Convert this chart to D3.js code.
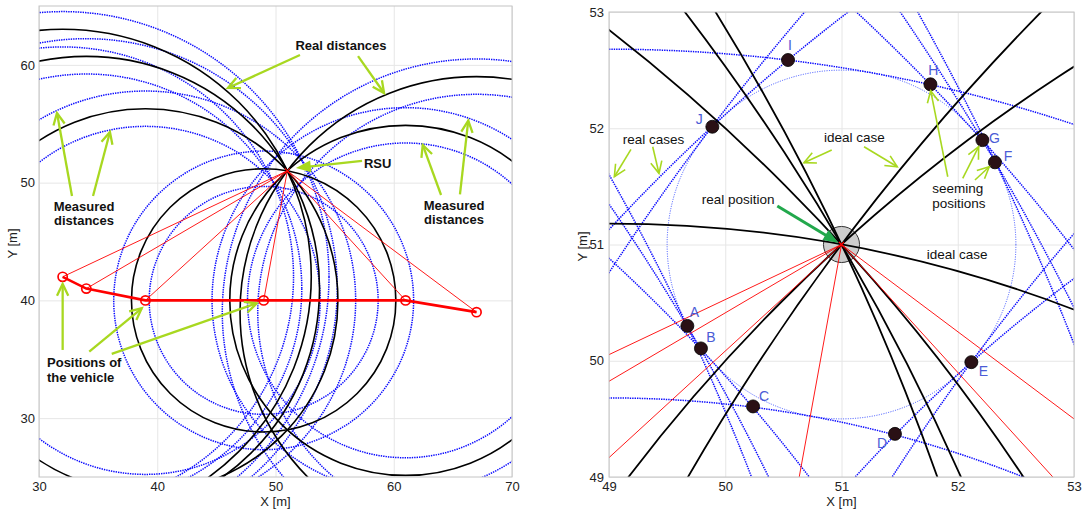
<!DOCTYPE html>
<html>
<head>
<meta charset="utf-8">
<script src="https://cdn.jsdelivr.net/npm/d3@7"></script>
<style>
  body { margin: 0; background: #fff; }
  text { font-family: "Liberation Sans", Arial, Helvetica, sans-serif; }
</style>
</head>
<body>
<svg id="chart" width="1083" height="513"></svg>
<script>
// vehicle positions along the road [m]
const vehicleX = [32, 34, 39, 49, 61, 67];
const vehicleY = [42, 41, 40, 40, 40, 39];
// road side unit
const rsuX = 51;
const rsuY = 51;
// real distances vehicle -> RSU [m]
const realDistances = [21.024, 19.723, 16.279, 11.180, 14.866, 20.000];
// measured distances (short / long reading) [m]
const measuredShort = [19.524, 18.223, 14.779, 9.680, 13.366, 18.500];
const measuredLong = [22.524, 21.223, 17.779, 12.680, 16.366, 21.500];
const idealRadius = 1.5;
// seeming positions of the RSU
const seemingNames = ['A', 'B', 'C', 'D', 'E', 'F', 'G', 'H', 'I', 'J'];
const seemingX = [49.674, 49.791, 50.239, 51.460, 52.117, 52.320, 52.212, 51.765, 50.540, 49.889];
const seemingY = [50.300, 50.106, 49.607, 49.371, 49.988, 51.707, 51.898, 52.378, 52.587, 52.013];
// tick labels
const leftTicksX = [30, 40, 50, 60, 70];
const leftTicksY = [30, 40, 50, 60];
const rightTicks = [49, 50, 51, 52, 53];

const svg = d3.select('#chart');
const BLUE = '#0a0aff';
const LIME = '#a8d820';

// label offsets (px) for the seeming positions
const letterOffsets = [[7,-14],[10,-11],[11,-10],[-13,9],[12,9],[13,-6],[12,-2],[3,-14],[2,-15],[-13,-8]];

function arrow(g, x, y, a, color, width, filled) {
  const x1 = x(a[0]), y1 = y(a[1]), x2 = x(a[2]), y2 = y(a[3]);
  const ang = Math.atan2(y2 - y1, x2 - x1);
  if (filled) {
    const L = 16, s = 0.38;
    const bx = x2 - Math.cos(ang) * (L - 3), by = y2 - Math.sin(ang) * (L - 3);
    g.append('line').attr('x1', x1).attr('y1', y1).attr('x2', bx).attr('y2', by)
      .attr('stroke', color).attr('stroke-width', width);
    const p1 = [x2 - L * Math.cos(ang - s), y2 - L * Math.sin(ang - s)];
    const p2 = [x2 - L * Math.cos(ang + s), y2 - L * Math.sin(ang + s)];
    g.append('path').attr('d', `M${x2},${y2}L${p1[0]},${p1[1]}L${p2[0]},${p2[1]}Z`)
      .attr('fill', color);
  } else {
    const L = 13, s = 0.45;
    g.append('line').attr('x1', x1).attr('y1', y1).attr('x2', x2).attr('y2', y2)
      .attr('stroke', color).attr('stroke-width', width);
    g.append('path')
      .attr('d', `M${x2 - L * Math.cos(ang - s)},${y2 - L * Math.sin(ang - s)}L${x2},${y2}L${x2 - L * Math.cos(ang + s)},${y2 - L * Math.sin(ang + s)}`)
      .attr('fill', 'none').attr('stroke', color).attr('stroke-width', width)
      .attr('stroke-linejoin', 'miter');
  }
}

function drawPanel(opt) {
  const g = svg.append('g');
  const x = d3.scaleLinear().domain(opt.xd).range(opt.xr);
  const y = d3.scaleLinear().domain(opt.yd).range(opt.yr);
  const w = opt.xr[1] - opt.xr[0];
  const h = opt.yr[0] - opt.yr[1];

  // grid + tick labels
  const ax = g.append('g').attr('transform', `translate(0,${opt.yr[0]})`)
    .call(d3.axisBottom(x).tickValues(opt.tx).tickSize(-h).tickPadding(5).tickFormat(d3.format('d')));
  const ay = g.append('g').attr('transform', `translate(${opt.xr[0]},0)`)
    .call(d3.axisLeft(y).tickValues(opt.ty).tickSize(-w).tickPadding(opt.ypad).tickFormat(d3.format('d')));
  [ax, ay].forEach(a => {
    a.select('.domain').remove();
    a.selectAll('line').attr('stroke', '#e6e6e6');
    a.selectAll('text').attr('fill', '#222').style('font-size', '13px')
      .style('font-family', '"Liberation Sans", Arial, sans-serif');
  });

  g.append('text').attr('x', (opt.xr[0] + opt.xr[1]) / 2).attr('y', 506)
    .attr('text-anchor', 'middle').attr('fill', '#222').style('font-size', '13px').text('X [m]');
  g.append('text').attr('transform', `translate(${opt.ylabX},${(opt.yr[0] + opt.yr[1]) / 2 + 2}) rotate(-90)`)
    .attr('text-anchor', 'middle').attr('fill', '#222').style('font-size', '13px').text('Y [m]');

  const clipId = 'clip' + opt.id;
  svg.append('clipPath').attr('id', clipId).append('rect')
    .attr('x', opt.xr[0]).attr('y', opt.yr[1]).attr('width', w).attr('height', h);
  const plot = g.append('g').attr('clip-path', `url(#${clipId})`);

  const rx = r => x(opt.xd[0] + r) - x(opt.xd[0]);
  const ry = r => y(opt.yd[0]) - y(opt.yd[0] + r);

  if (opt.bigRsu) {
    plot.append('ellipse').attr('cx', x(rsuX)).attr('cy', y(rsuY))
      .attr('rx', rx(0.155)).attr('ry', ry(0.155))
      .attr('fill', '#cdcdcd').attr('stroke', '#333').attr('stroke-width', 1);
  }

  // ideal ring of seeming positions
  plot.append('ellipse').attr('cx', x(rsuX)).attr('cy', y(rsuY))
    .attr('rx', rx(idealRadius)).attr('ry', ry(idealRadius))
    .attr('fill', 'none').attr('stroke', '#3a50ff').attr('stroke-width', 1)
    .attr('stroke-dasharray', '1,1.4');

  // measured distances (blue dotted)
  const measured = vehicleX.flatMap((vx, i) => [
    { cx: vx, cy: vehicleY[i], r: measuredShort[i] },
    { cx: vx, cy: vehicleY[i], r: measuredLong[i] }
  ]);
  plot.selectAll('ellipse.meas').data(measured).enter().append('ellipse')
    .attr('class', 'meas')
    .attr('cx', d => x(d.cx)).attr('cy', d => y(d.cy))
    .attr('rx', d => rx(d.r)).attr('ry', d => ry(d.r))
    .attr('fill', 'none').attr('stroke', BLUE).attr('stroke-width', opt.blueW)
    .attr('stroke-dasharray', opt.dash);

  // real distances (black)
  plot.selectAll('ellipse.real').data(vehicleX).enter().append('ellipse')
    .attr('class', 'real')
    .attr('cx', d => x(d)).attr('cy', (d, i) => y(vehicleY[i]))
    .attr('rx', (d, i) => rx(realDistances[i])).attr('ry', (d, i) => ry(realDistances[i]))
    .attr('fill', 'none').attr('stroke', '#000').attr('stroke-width', opt.blackW);

  // lines vehicle -> RSU
  plot.selectAll('line.ray').data(vehicleX).enter().append('line')
    .attr('x1', d => x(d)).attr('y1', (d, i) => y(vehicleY[i]))
    .attr('x2', x(rsuX)).attr('y2', y(rsuY))
    .attr('stroke', '#ff0000').attr('stroke-width', 0.9);

  // vehicle trajectory
  const path = d3.line().x(d => x(d[0])).y(d => y(d[1]));
  plot.append('path').datum(vehicleX.map((v, i) => [v, vehicleY[i]]))
    .attr('d', path).attr('fill', 'none').attr('stroke', '#ff0000').attr('stroke-width', 2.6);
  plot.selectAll('circle.veh').data(vehicleX).enter().append('circle')
    .attr('cx', d => x(d)).attr('cy', (d, i) => y(vehicleY[i])).attr('r', 4.6)
    .attr('fill', 'none').attr('stroke', '#ff0000').attr('stroke-width', 1.7);

  // RSU marker
  const s = 2.5;
  plot.append('path')
    .attr('d', `M${x(rsuX) - s},${y(rsuY) - s}L${x(rsuX) + s},${y(rsuY) + s}M${x(rsuX) - s},${y(rsuY) + s}L${x(rsuX) + s},${y(rsuY) - s}`)
    .attr('stroke', '#ff0000').attr('stroke-width', 1.2);

  if (opt.seeming) {
    plot.selectAll('circle.seem').data(seemingNames).enter().append('circle')
      .attr('cx', (d, i) => x(seemingX[i])).attr('cy', (d, i) => y(seemingY[i])).attr('r', 6.5)
      .attr('fill', '#2a1015').attr('stroke', '#000').attr('stroke-width', 0.8);
    g.selectAll('text.seem').data(seemingNames).enter().append('text')
      .attr('x', (d, i) => x(seemingX[i]) + letterOffsets[i][0])
      .attr('y', (d, i) => y(seemingY[i]) + letterOffsets[i][1] + 5)
      .attr('text-anchor', 'middle').attr('fill', '#4b5bd6').style('font-size', '14px').text(d => d);
  }

  // frame
  g.append('rect').attr('x', opt.xr[0]).attr('y', opt.yr[1]).attr('width', w).attr('height', h)
    .attr('fill', 'none').attr('stroke', '#c4c4c4').attr('stroke-width', 1);

  // annotations
  const ann = g.append('g');
  opt.texts.forEach(t => {
    ann.append('text').attr('x', x(t.x)).attr('y', y(t.y) + 5)
      .attr('text-anchor', t.anchor || 'start').attr('fill', '#111')
      .style('font-size', t.bold ? '13px' : '13.5px').style('font-weight', t.bold ? 'bold' : 'normal')
      .text(t.s);
  });
  opt.arrows.forEach(a => arrow(ann, x, y, a.p, a.c || LIME, a.w || 2.3, a.filled));
}

drawPanel({
  id: 'L', xd: [30, 70], yd: [25, 65], xr: [39, 512], yr: [477, 6],
  tx: leftTicksX, ty: leftTicksY, ypad: 4, ylabX: 17,
  blueW: 1.5, blackW: 1.6, dash: '1.4,1', bigRsu: false, seeming: false,
  texts: [
    { s: 'Real distances', x: 55.54, y: 61.69, anchor: 'middle', bold: true },
    { s: 'RSU', x: 57.48, y: 51.67, bold: true },
    { s: 'Measured', x: 33.81, y: 48.01, anchor: 'middle', bold: true },
    { s: 'distances', x: 33.81, y: 46.83, anchor: 'middle', bold: true },
    { s: 'Measured', x: 65.10, y: 48.10, anchor: 'middle', bold: true },
    { s: 'distances', x: 65.10, y: 46.91, anchor: 'middle', bold: true },
    { s: 'Positions of', x: 30.68, y: 34.74, bold: true },
    { s: 'the vehicle', x: 30.68, y: 33.47, bold: true }
  ],
  arrows: [
    { p: [52.07, 60.84, 45.98, 58.04] },
    { p: [56.98, 60.75, 59.18, 57.61] },
    { p: [57.32, 51.84, 51.73, 51.24], filled: true },
    { p: [32.79, 48.86, 31.52, 55.91] },
    { p: [34.57, 48.86, 36.00, 54.30] },
    { p: [64.00, 48.95, 62.45, 53.20] },
    { p: [65.60, 49.01, 66.30, 55.26] },
    { p: [32.00, 35.79, 32.00, 41.39] },
    { p: [34.25, 35.64, 38.69, 39.33] },
    { p: [36.15, 35.45, 48.41, 39.75] }
  ]
});

drawPanel({
  id: 'R', xd: [49, 53], yd: [49, 53], xr: [609, 1074], yr: [477, 12],
  tx: rightTicks, ty: rightTicks, ypad: 5, ylabX: 587,
  blueW: 1.5, blackW: 1.8, dash: '1.4,1', bigRsu: true, seeming: true,
  texts: [
    { s: 'real cases', x: 49.118, y: 51.905 },
    { s: 'ideal case', x: 50.849, y: 51.922 },
    { s: 'real position', x: 49.797, y: 51.389 },
    { s: 'seeming', x: 51.781, y: 51.483 },
    { s: 'positions', x: 51.781, y: 51.354 },
    { s: 'ideal case', x: 51.733, y: 50.918 }
  ],
  arrows: [
    { p: [49.189, 51.819, 49.046, 51.583], w: 1.6 },
    { p: [49.376, 51.841, 49.430, 51.612], w: 1.6 },
    { p: [50.916, 51.813, 50.677, 51.704], w: 1.6 },
    { p: [51.194, 51.841, 51.480, 51.669], w: 1.6 },
    { p: [50.448, 51.331, 50.972, 51.016], c: '#22a84c', w: 3, filled: true },
    { p: [51.914, 51.583, 51.767, 52.323], w: 1.6 },
    { p: [52.043, 51.569, 52.180, 51.841], w: 1.6 },
    { p: [52.148, 51.555, 52.271, 51.669], w: 1.6 }
  ]
});
</script>
</body>
</html>
